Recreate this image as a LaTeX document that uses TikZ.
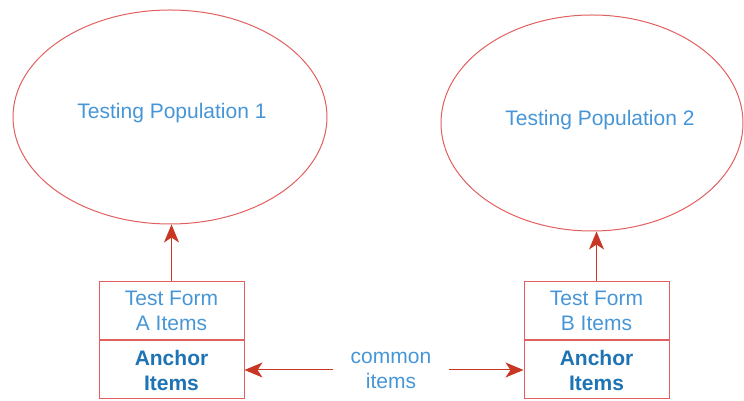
\documentclass[tikz,border=0pt]{standalone}
\usepackage{fontspec}
\setmainfont{Liberation Sans}
\usetikzlibrary{shapes.geometric,arrows.meta}
\definecolor{outlinered}{RGB}{225,95,95}
\definecolor{arrowred}{RGB}{200,55,35}
\definecolor{labelblue}{RGB}{70,150,215}
\definecolor{anchorblue}{RGB}{30,115,180}
\begin{document}
\begin{tikzpicture}[x=1pt,y=1pt,
  popshape/.style={ellipse,draw=outlinered,line width=1pt,inner sep=0pt},
  poplabel/.style={text=labelblue,font=\fontsize{21}{25}\selectfont},
  formbox/.style={rectangle,draw=outlinered,line width=1pt,minimum width=145pt,minimum height=58pt,inner sep=0pt,align=center,text=labelblue,font=\fontsize{21}{25}\selectfont},
  anchorbox/.style={formbox,text=anchorblue,font=\fontsize{21}{25}\selectfont\bfseries},
  link/.style={draw=arrowred,line width=1pt,-{Stealth[length=18pt,width=15pt,inset=5pt]}}
]
\useasboundingbox (0,0) rectangle (744,401);

% the two populations
\node[popshape,minimum width=314pt,minimum height=214pt] (pop1) at (170,284) {};
\node[poplabel] (pop1text) at (172,288) {Testing Population 1};
\node[popshape,minimum width=302pt,minimum height=216pt] (pop2) at (592,278) {};
\node[poplabel] (pop2text) at (600,281) {Testing Population 2};

% test forms with their anchor items
\node[formbox] (formA) at (171.5,90) {Test Form\\A Items};
\node[anchorbox,anchor=north] (anchorA) at (formA.south) {Anchor\\Items};
\node[formbox] (formB) at (596.5,90) {Test Form\\B Items};
\node[anchorbox,anchor=north] (anchorB) at (formB.south) {Anchor\\Items};

% forms point to their populations
\draw[link] (formA.north) -- (formA.north |- pop1.south);
\draw[link] (formB.north) -- (formB.north |- pop2.south);

% common items shared between the anchor blocks
\node[poplabel,align=center,inner xsep=18pt] (common) at (391,31) {common\\items};
\draw[link] (common.west |- anchorA.east) -- (anchorA.east);
\draw[link] (common.east |- anchorB.west) -- (anchorB.west);
\end{tikzpicture}
\end{document}
